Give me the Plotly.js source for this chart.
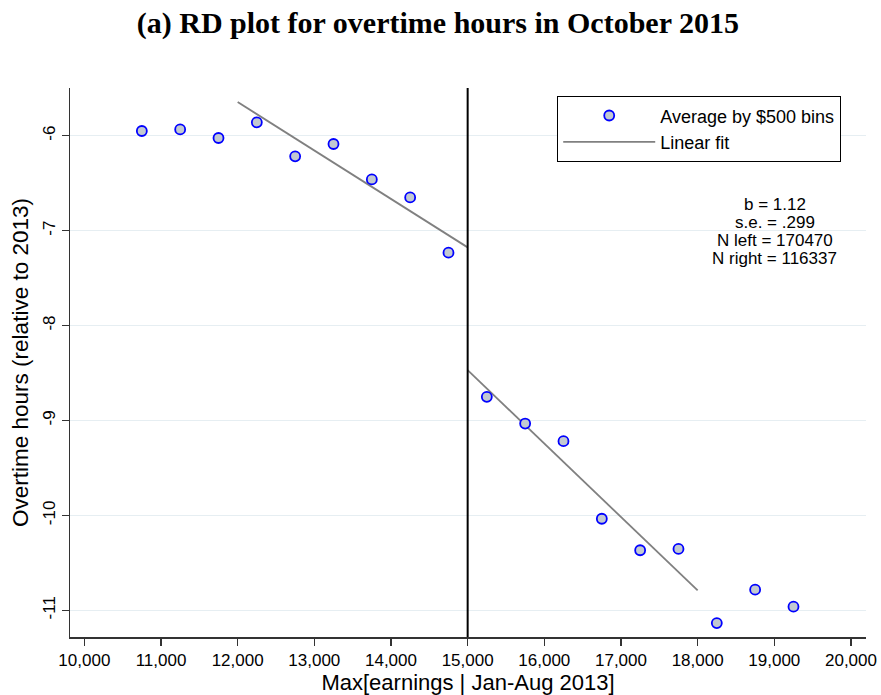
<!DOCTYPE html>
<html>
<head>
<meta charset="utf-8">
<script src="https://cdn.plot.ly/plotly-3.0.1.min.js"></script>
<style>html,body{margin:0;padding:0;background:#fff;}#chart{width:881px;height:695px;}</style>
</head>
<body>
<div id="chart"></div>
<script>
// Bin averages (bin midpoints, $500 bins)
const binX = [10750, 11250, 11750, 12250, 12750, 13250, 13750, 14250, 14750,
              15250, 15750, 16250, 16750, 17250, 17750, 18250, 18750, 19250];
const binY = [-5.95, -5.933, -6.024, -5.859, -6.217, -6.087, -6.46, -6.65, -7.232,
              -8.751, -9.032, -9.218, -10.035, -10.367, -10.353, -11.134, -10.782, -10.961];
// Linear fits on each side of the cutoff
const leftFitX = [12000, 15000];
const leftFitY = [-5.645, -7.176];
const rightFitX = [15000, 18000];
const rightFitY = [-8.47, -10.79];
const cutoff = 15000;
// Ticks
const xTicks = [10000, 11000, 12000, 13000, 14000, 15000, 16000, 17000, 18000, 19000, 20000];
const xTickLabels = ['10,000','11,000','12,000','13,000','14,000','15,000','16,000','17,000','18,000','19,000','20,000'];
const yTicks = [-11, -10, -9, -8, -7, -6];
const statLines = ['b = 1.12', 's.e. = .299', 'N left = 170470', 'N right = 116337'];

const fitLine = {color: '#808080', width: 1.8};
const traces = [
  {x: leftFitX, y: leftFitY, mode: 'lines', line: fitLine, name: 'Linear fit',
   legendrank: 2, legendgroup: 'b', showlegend: true, hoverinfo: 'skip'},
  {x: rightFitX, y: rightFitY, mode: 'lines', line: fitLine, name: 'Linear fit',
   legendgroup: 'b', showlegend: false, hoverinfo: 'skip'},
  {x: binX, y: binY, mode: 'markers', name: 'Average by $500 bins', legendrank: 1, legendgroup: 'a',
   marker: {symbol: 'circle', size: 10, color: '#c2c9d1', line: {color: '#0000ff', width: 1.8}}}
];

const annotations = statLines.map((t, i) => ({
  text: t, x: 19003, y: -6.723, xref: 'x', yref: 'y', showarrow: false,
  xanchor: 'center', yanchor: 'middle', yshift: -18 * i,
  font: {family: 'Liberation Sans, Arial, sans-serif', size: 17, color: '#000'}
}));

const layout = {
  width: 881, height: 695,
  margin: {l: 70, r: 15, t: 88, b: 58},
  paper_bgcolor: '#fff', plot_bgcolor: '#fff',
  font: {family: 'Liberation Sans, Arial, sans-serif', color: '#000'},
  title: {
    text: '<b>(a) RD plot for overtime hours in October 2015</b>',
    font: {family: 'Liberation Serif, Times New Roman, serif', size: 30, color: '#000'},
    x: 0.497, xanchor: 'center', y: 0.968, yanchor: 'middle', yref: 'container'
  },
  xaxis: {
    range: [9813, 20196], tickvals: xTicks, ticktext: xTickLabels,
    showgrid: false, zeroline: false, showline: true, linecolor: '#333', linewidth: 1.5,
    ticks: 'outside', ticklen: 7, tickwidth: 1.3, tickcolor: '#333',
    tickfont: {size: 17}, mirror: false,
    title: {text: 'Max[earnings | Jan-Aug 2013]', font: {size: 22}, standoff: 0}
  },
  yaxis: {
    range: [-11.281, -5.497], tickvals: yTicks, ticktext: yTicks.map(String),
    showgrid: true, gridcolor: '#e6eef2', gridwidth: 1.5, zeroline: false,
    showline: true, linecolor: '#333', linewidth: 1.5,
    ticks: 'outside', ticklen: 7, tickwidth: 1.3, tickcolor: '#333',
    tickangle: -90, tickfont: {size: 17},
    title: {text: 'Overtime hours (relative to 2013)', font: {size: 22.5}, standoff: 5}
  },
  legend: {
    x: 0.6117, y: 0.9854, xanchor: 'left', yanchor: 'top',
    bordercolor: '#000', borderwidth: 1.3, bgcolor: '#fff',
    font: {size: 18}, itemwidth: 92, tracegroupgap: 7, traceorder: 'normal'
  },
  shapes: [{type: 'line', xref: 'x', yref: 'paper', x0: cutoff, x1: cutoff, y0: 0, y1: 1,
            line: {color: '#000', width: 2}}],
  annotations: annotations,
  showlegend: true
};

Plotly.newPlot('chart', traces, layout, {displayModeBar: false, staticPlot: true});
</script>
</body>
</html>
